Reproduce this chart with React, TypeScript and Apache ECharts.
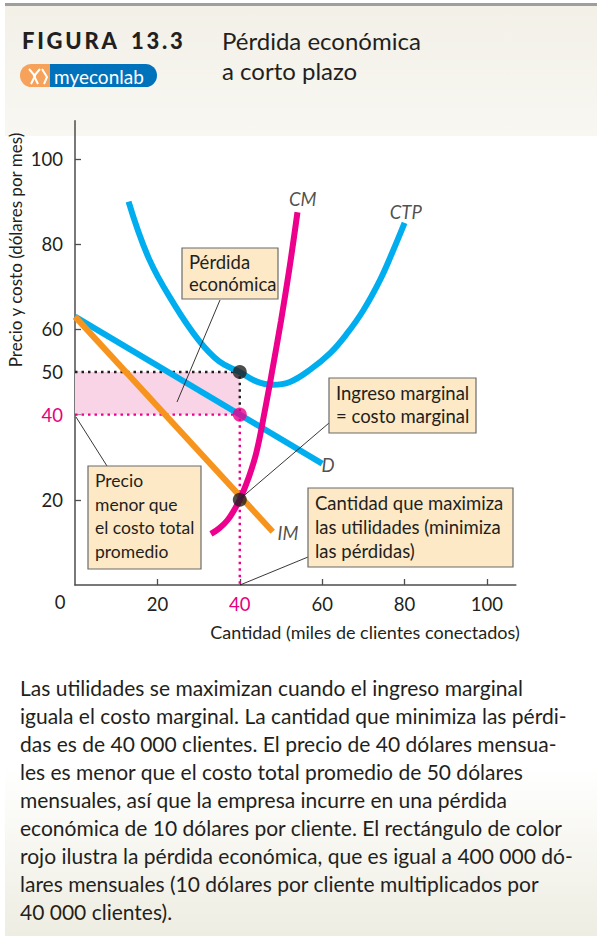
import React, { useEffect, useRef } from 'react';
import * as echarts from 'echarts';

// ---- data ----
const xTickValues = [20, 40, 60, 80, 100];
const yTickValues = [20, 40, 50, 60, 80, 100];
const highlightValue = 40;

const ctpPoints = [
  [13, 90], [18, 76.5], [24, 66], [30, 57.5], [35, 52.5], [40, 50], [44, 47.8], [48, 47],
  [52, 47.6], [57, 50.5], [62, 54.5], [66, 59], [70, 64.5], [74, 71.5], [77, 78], [80, 85],
];
const cmPoints = [
  [33, 12], [35, 13.3], [37, 15.2], [39, 18.2], [40, 20], [42, 24.8], [44, 31], [46, 40.5],
  [48, 51], [50, 62], [52, 74], [54, 87.5],
];
const demandPoints = [[0, 63], [60, 28.5]];
const imPoints = [[0, 63], [48, 12.5]];

const quantity = 40;
const price = 40;
const avgCost = 50;
const mcAtQ = 20;

const curveLabels = [
  { name: 'CM', at: [55.3, 90.6] },
  { name: 'CTP', at: [80.3, 87.6] },
  { name: 'D', at: [61.4, 28.2] },
  { name: 'IM', at: [51.7, 12.2] },
];

const captionLines = [
  'Las utilidades se maximizan cuando el ingreso marginal',
  'iguala el costo marginal. La cantidad que minimiza las pérdi-',
  'das es de 40 000 clientes. El precio de 40 dólares mensua-',
  'les es menor que el costo total promedio de 50 dólares',
  'mensuales, así que la empresa incurre en una pérdida',
  'económica de 10 dólares por cliente. El rectángulo de color',
  'rojo ilustra la pérdida económica, que es igual a 400 000 dó-',
  'lares mensuales (10 dólares por cliente multiplicados por',
  '40 000 clientes).',
];

// ---- style ----
const FONT = 'Lato, "Open Sans", sans-serif';
const INK = '#231f20';
const BLUE = '#00aeef';
const MAGENTA = '#ec008c';
const ORANGE = '#f7941d';
const BOX_FILL = '#fde9c6';
const BOX_STROKE = '#6b6b6b';
const TS = '\u2009';

function box(x: number, y: number, w: number, h: number, text: string, lh: number, fs = 18.5) {
  return {
    type: 'group',
    z: 100,
    children: [
      { type: 'rect', shape: { x, y, width: w, height: h }, style: { fill: BOX_FILL, stroke: BOX_STROKE, lineWidth: 1.2 }, z: 100 },
      {
        type: 'text', x: x + 7, y: y + 3, z: 101,
        style: { text, fill: INK, font: `${fs}px ${FONT}`, lineHeight: lh, verticalAlign: 'top', align: 'left' },
      },
    ],
  };
}

function leader(x1: number, y1: number, x2: number, y2: number) {
  return { type: 'line', z: 99, shape: { x1, y1, x2, y2 }, style: { stroke: INK, lineWidth: 0.9 } };
}

export default function App() {
  const ref = useRef<HTMLDivElement>(null);
  useEffect(() => {
    if (!ref.current) return;
    const chart = echarts.init(ref.current, null, { renderer: 'svg' });
    const labelFmt = (v: number) => (v === highlightValue ? `{m|${v}}` : `{d|${v}}`);
    const rich = {
      m: { color: '#e6007e', fontSize: 18.5, fontFamily: FONT },
      d: { color: INK, fontSize: 18.5, fontFamily: FONT },
    };
    const option: any = {
      animation: false,
      backgroundColor: 'transparent',
      grid: { left: 75, top: 120.7, width: 440.8, height: 464.3, containLabel: false, outerBoundsMode: 'none' },
      xAxis: {
        type: 'value', min: 0, max: 107, interval: 20,
        splitLine: { show: false },
        axisLine: { lineStyle: { color: '#4d4d4d', width: 1.5 } },
        axisTick: { show: true, inside: true, length: 6, lineStyle: { color: '#4d4d4d', width: 1.3 }, customValues: xTickValues },
        axisLabel: { customValues: xTickValues, formatter: labelFmt, rich, margin: 9 },
      },
      yAxis: {
        type: 'value', min: 0, max: 109, interval: 20,
        splitLine: { show: false },
        axisLine: { lineStyle: { color: '#4d4d4d', width: 1.5 } },
        axisTick: { show: true, inside: true, length: 6, lineStyle: { color: '#4d4d4d', width: 1.3 }, customValues: yTickValues },
        axisLabel: { customValues: yTickValues, formatter: labelFmt, rich, margin: 12 },
      },
      series: [
        {
          name: 'costDotted', type: 'line', z: 1, symbol: 'none',
          data: [[0, avgCost], [quantity, avgCost], [quantity, price]],
          lineStyle: { color: INK, width: 2.4, type: [2.5, 4] },
          markArea: {
            silent: true,
            itemStyle: { color: '#f9d4e6' },
            data: [[{ xAxis: 0, yAxis: price }, { xAxis: quantity, yAxis: avgCost }]],
          },
        },
        {
          name: 'priceDotted', type: 'line', z: 1, symbol: 'none',
          data: [[0, price], [quantity, price], [quantity, 0]],
          lineStyle: { color: MAGENTA, width: 2.4, type: [2.5, 4] },
        },
        { name: 'D', type: 'line', z: 2, symbol: 'none', data: demandPoints, lineStyle: { color: BLUE, width: 6 } },
        { name: 'CTP', type: 'line', z: 3, symbol: 'none', smooth: 0.4, data: ctpPoints, lineStyle: { color: BLUE, width: 6 } },
        { name: 'IM', type: 'line', z: 4, symbol: 'none', data: imPoints, lineStyle: { color: ORANGE, width: 6 } },
        { name: 'CM', type: 'line', z: 5, symbol: 'none', smooth: 0.4, data: cmPoints, lineStyle: { color: MAGENTA, width: 6 } },
        {
          name: 'dotsBlack', type: 'scatter', z: 6, symbol: 'circle', symbolSize: 14,
          data: [[quantity, avgCost], [quantity, mcAtQ]], itemStyle: { color: '#231f20' },
        },
        {
          name: 'dotMagenta', type: 'scatter', z: 6, symbol: 'circle', symbolSize: 14,
          data: [[quantity, price]], itemStyle: { color: MAGENTA },
        },
        {
          name: 'labels', type: 'scatter', z: 7, symbolSize: 1, itemStyle: { color: 'rgba(0,0,0,0)' },
          data: curveLabels.map((c) => ({ name: c.name, value: c.at })),
          label: {
            show: true, position: 'inside', formatter: (p: any) => p.name,
            color: INK, fontSize: 18.5, fontStyle: 'italic', fontFamily: FONT,
          },
        },
      ],
      graphic: [
        // backgrounds
        {
          type: 'rect', z: -10, shape: { x: 5, y: 6, width: 592, height: 130 },
          style: { fill: new echarts.graphic.LinearGradient(0, 0, 0, 1, [{ offset: 0, color: '#f2f0e7' }, { offset: 1, color: '#f8f7f2' }]) },
        },
        { type: 'rect', z: -9, shape: { x: 5, y: 3, width: 592, height: 3 }, style: { fill: '#9e9e9e' } },
        {
          type: 'rect', z: -10, shape: { x: 5, y: 655, width: 592, height: 281 },
          style: { fill: new echarts.graphic.LinearGradient(0, 0, 0, 1, [{ offset: 0, color: '#ffffff' }, { offset: 0.4, color: '#ffffff' }, { offset: 1, color: '#eeede2' }]) },
        },
        // header
        { type: 'text', x: 22, y: 40, style: { text: ['F', 'I', 'G', 'U', 'R', 'A'].join(TS), fill: INK, font: `900 22px ${FONT}`, verticalAlign: 'middle' } },
        { type: 'text', x: 131, y: 40, style: { text: ['1', '3', '.', '3'].join(TS), fill: INK, font: `900 22px ${FONT}`, verticalAlign: 'middle' } },
        { type: 'text', x: 222, y: 40, style: { text: 'Pérdida económica', fill: INK, font: `24px ${FONT}`, verticalAlign: 'middle' } },
        { type: 'text', x: 222, y: 70, style: { text: 'a corto plazo', fill: INK, font: `24px ${FONT}`, verticalAlign: 'middle' } },
        // logo
        { type: 'rect', shape: { x: 20, y: 64, width: 36, height: 23, r: [11.5, 0, 0, 11.5] }, style: { fill: '#f6a25a' } },
        { type: 'rect', shape: { x: 50, y: 64, width: 107, height: 23, r: [0, 11.5, 11.5, 0] }, style: { fill: '#0072bc' } },
        { type: 'polyline', shape: { points: [[29, 69], [35, 76], [31, 84]] }, style: { stroke: '#fff', lineWidth: 2, fill: null } },
        { type: 'polyline', shape: { points: [[40, 69], [34, 76], [38, 84]] }, style: { stroke: '#fff', lineWidth: 2, fill: null } },
        { type: 'polyline', shape: { points: [[42, 69], [47, 77], [44, 84]] }, style: { stroke: '#fff', lineWidth: 2, fill: null } },
        { type: 'text', x: 54, y: 76, style: { text: 'myeconlab', fill: '#fff', font: `19px ${FONT}`, verticalAlign: 'middle' } },
        // axis titles
        {
          type: 'text', x: 15, y: 250, rotation: Math.PI / 2,
          style: { text: 'Precio y costo (dólares por mes)', fill: INK, font: `17px ${FONT}`, align: 'center', verticalAlign: 'middle' },
        },
        {
          type: 'text', x: 365, y: 632,
          style: { text: 'Cantidad (miles de clientes conectados)', fill: INK, font: `18px ${FONT}`, align: 'center', verticalAlign: 'middle' },
        },
        { type: 'text', x: 60, y: 602, style: { text: '0', fill: INK, font: `18.5px ${FONT}`, align: 'center', verticalAlign: 'middle' } },
        // annotations
        leader(220, 300, 177, 402),
        leader(329, 423, 240, 499),
        leader(107, 466, 76, 417),
        leader(308, 557, 240, 585),
        box(182, 248, 96, 51, 'Pérdida\neconómica', 22),
        box(329, 378, 147, 55, 'Ingreso marginal\n= costo marginal', 23),
        box(88, 466, 113, 103, 'Precio\nmenor que\nel costo total\npromedio', 23.5, 17.5),
        box(308, 488, 205, 79, 'Cantidad que maximiza\nlas utilidades (minimiza\nlas pérdidas)', 24),
        // caption
        {
          type: 'text', x: 20, y: 673,
          style: { text: captionLines.join('\n'), fill: INK, font: `21px ${FONT}`, lineHeight: 28, verticalAlign: 'top' },
        },
      ],
    };
    chart.setOption(option);
    return () => chart.dispose();
  }, []);
  return <div ref={ref} style={{ position: 'absolute', left: 0, top: 0, width: 597, height: 942, background: '#fff' }} />;
}
